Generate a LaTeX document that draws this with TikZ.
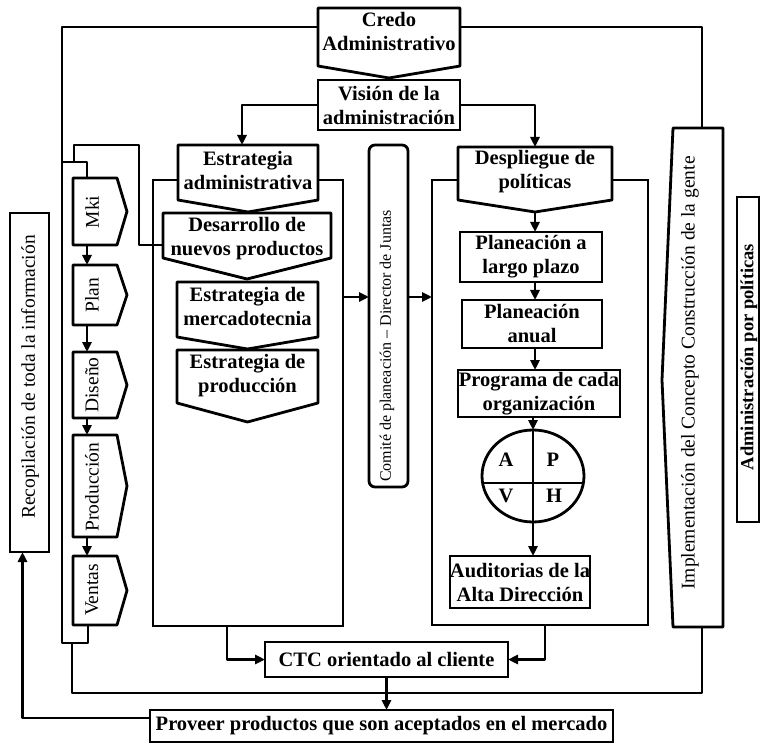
\documentclass[tikz,border=0pt]{standalone}
\usepackage{fontspec}
\setmainfont{Liberation Serif}
\usetikzlibrary{arrows.meta,shapes.geometric}

\newcommand\hfnt{\bfseries\fontsize{20.5}{24}\selectfont}
\newcommand\vfnt{\fontsize{19.5}{22}\selectfont}
\newcommand\cfnt{\fontsize{16}{18}\selectfont}

\tikzset{
  ln/.style={line width=2.8pt, line join=round},
  arr/.style={ln, -{Triangle[length=10pt,width=9pt]}},
  area/.style={draw=none, inner sep=0pt, outer sep=0pt},
  boxed/.style={draw, line width=2.8pt, fill=white, inner sep=0pt, outer sep=0pt, align=center, font=\hfnt},
  txt/.style={inner sep=0pt, align=center, font=\hfnt},
  vtxt/.style={inner sep=0pt, rotate=90, font=\vfnt},
}

% box whose lower edge is a downward point
\newcommand\downpenta[6]{%
  \node[area, minimum width=#4pt, minimum height=#5pt] (#1) at (#2,#3) {};
  \filldraw[ln, fill=white] (#1.south west) -- (#1.north west) -- (#1.north east)
    -- (#1.south east) -- ([yshift=-#6pt]#1.south) -- cycle;}
% box whose right edge is a point
\newcommand\rightpenta[6]{%
  \node[area, minimum width=#4pt, minimum height=#5pt] (#1) at (#2,#3) {};
  \filldraw[ln, fill=white] (#1.south west) -- (#1.north west) -- (#1.north east)
    -- ([xshift=#6pt]#1.east) -- (#1.south east) -- cycle;}

\begin{document}
\begin{tikzpicture}[x=1pt,y=-1pt]
\useasboundingbox (0,0) rectangle (761,746);
\fill[white] (0,0) rectangle (761,746);

% frames of the two main blocks
\node[area, draw, line width=2.8pt, minimum width=190pt, minimum height=446pt] (estrframe) at (248,403) {};
\node[area, draw, line width=2.8pt, minimum width=216pt, minimum height=445pt] (despframe) at (540,402.5) {};

% top-level boxes
\downpenta{credo}{389}{37}{142}{58}{12}
\node[txt] (credo-t) at (389,31) {Credo\\Administrativo};
\node[boxed, minimum width=142pt, minimum height=50pt] (vision) at (389,105) {Visión de la\\administración};

% feedback loop through the left column and the right panel
\draw[ln] ([yshift=10pt]credo.west) -| (62,643) -| (88,625);
\coordinate (implT) at (702,128);
\coordinate (implB) at (702,627);
\draw[ln] ([yshift=10pt]credo.east) -| (implT);
\draw[ln] (72,643) |- (702,693) -- (implB);

% strategy column
\downpenta{estr}{248}{172.5}{140}{55}{12}
\node[txt] (estr-t) at (248,170) {Estrategia\\administrativa};
\downpenta{desa}{247}{235.5}{168}{45}{21}
\node[txt] (desa-t) at (247,239) {Desarrollo de\\nuevos productos};
\downpenta{merc}{247.5}{309.5}{141}{55}{12}
\node[txt] (merc-t) at (247.5,306) {Estrategia de\\mercadotecnia};
\downpenta{prodE}{247.5}{376.5}{141}{53}{19}
\node[txt] (prodE-t) at (247.5,376) {Estrategia de\\producción};

% policy deployment column
\downpenta{desp}{535}{173.5}{154}{53}{12}
\node[txt] (desp-t) at (535,172) {Despliegue de\\políticas};
\node[boxed, minimum width=142pt, minimum height=50pt] (plp) at (531,257) {Planeación a\\largo plazo};
\node[boxed, minimum width=140pt, minimum height=48pt] (pan) at (532,324) {Planeación\\anual};
\node[boxed, minimum width=162pt, minimum height=47pt] (prog) at (539,393.5) {Programa de cada\\organización};
\node[draw, ellipse, line width=2.8pt, fill=white, minimum width=102pt, minimum height=92pt, inner sep=0pt, outer sep=0pt] (pdca) at (533,476) {};
\draw[ln] ([yshift=-7pt]pdca.west) -- ([yshift=-7pt]pdca.east);
\node[txt] (cA) at (506,460) {A};
\node[txt] (cP) at (553,460) {P};
\node[txt] (cV) at (506,496) {V};
\node[txt] (cH) at (554,496) {H};
\node[boxed, minimum width=126pt, minimum height=52pt] (aud) at (520,582) {Auditorias de la\\Alta Dirección};

% planning committee
\node[boxed, rounded corners=6pt, minimum width=39pt, minimum height=342pt] (comite) at (388.5,316) {};
\node[vtxt, font=\cfnt] (comite-t) at (387,346) {Comité de planeación -- Director de Juntas};

% left column
\rightpenta{mki}{95}{211.5}{44}{67}{10}
\rightpenta{plan}{95}{295}{44}{60}{10}
\rightpenta{dise}{95}{385}{44}{66}{10}
\rightpenta{prodC}{95}{486}{44}{102}{10}
\rightpenta{vent}{95}{590.5}{44}{69}{10}
\node[vtxt] (mki-t) at (92,212) {Mki};
\node[vtxt] (plan-t) at (92,295) {Plan};
\node[vtxt] (dise-t) at (92,385) {Diseño};
\node[vtxt] (prodC-t) at (92,487) {Producción};
\node[vtxt] (vent-t) at (92,590) {Ventas};
\draw[ln] (62,162) -| ([xshift=-8pt]mki.north);
\draw[ln] (74,162) |- (139,145) |- ([yshift=-9.5pt]desa.west);
\foreach \a/\b in {mki/plan, plan/dise, dise/prodC, prodC/vent}
  \draw[arr] ([xshift=-8pt]\a.south) -- ([xshift=-8pt]\b.north);

% information gathering
\node[boxed, minimum width=39pt, minimum height=339pt] (reco) at (29.5,382.5) {};
\node[vtxt] (reco-t) at (30,377) {Recopilación de toda la información};

% people-building concept
\filldraw[ln, fill=white] (673,128) -- (723,128) -- (723,627) -- (673,627) -- (662,380) -- cycle;
\node[vtxt] (impl-t) at (690,373) {Implementación del Concepto Construcción de la gente};

% management by policies
\node[boxed, minimum width=22pt, minimum height=325pt] (adm) at (748,359.5) {};
\node[vtxt, font=\bfseries\fontsize{18.5}{21}\selectfont] (adm-t) at (749,357) {Administración por políticas};

% bottom boxes
\node[boxed, minimum width=243pt, minimum height=35pt] (ctc) at (386.5,659.5) {CTC orientado al cliente};
\node[boxed, minimum width=463pt, minimum height=32pt] (prov) at (381.5,726) {Proveer productos que son aceptados en el mercado};

% connectors
\coordinate (mid) at (400,297);
\draw[arr] (vision.west) -| ([xshift=-6pt]estr.north);
\draw[arr] (vision.east) -| (desp.north);
\draw[arr] ([yshift=-12pt]desp.south) -- (desp.south |- plp.north);
\draw[arr] (plp.south -| desp.south) -- (desp.south |- pan.north);
\draw[arr] (pan.south -| desp.south) -- (desp.south |- prog.north);
\draw[arr] (prog.south -| pdca.north) -- (pdca.north);
\draw[ln] (pdca.north) -- (pdca.south);
\draw[arr] (pdca.south) -- (pdca.south |- aud.north);
\draw[arr] (estrframe.east |- mid) -- (comite.west |- mid);
\draw[arr] (comite.east |- mid) -- (despframe.west |- mid);
\draw[arr] ([xshift=-21pt]estrframe.south) |- (ctc.west);
\draw[arr] ([xshift=5pt]despframe.south) |- (ctc.east);
\draw[arr] (ctc.south) -- (ctc.south |- prov.north);
\draw[arr] ([yshift=8pt]prov.west) -| ([xshift=-7pt]reco.south);
\end{tikzpicture}
\end{document}
